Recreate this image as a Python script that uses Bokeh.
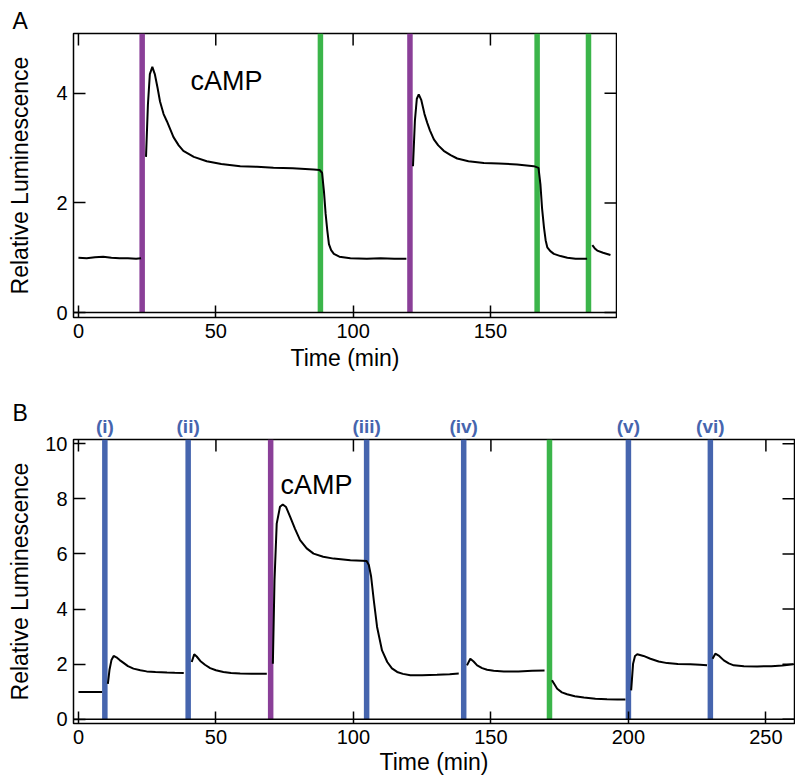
from bokeh.plotting import figure
from bokeh.models import Range1d, LinearAxis, Span, Label, FixedTicker
from bokeh.layouts import column
from bokeh.embed import file_html
from bokeh.resources import INLINE

nan = float("nan")

# ---------------- Panel A data ----------------
a_time = [0, 3, 6, 9, 12, 15, 18, 21, 22.8, nan,
          24.6, 25.3, 26.0, 26.9, 27.8, 28.8, 29.7, 31.0, 32.2, 34.6, 36.5, 38.2,
          42, 46.7, 52, 58.9, 65, 71, 78, 85.6, 87.8,
          88.7, 89.4, 90.0, 90.6, 91.2, 92.0, 93.0, 95, 99, 105, 110, 115, 119.4, nan,
          121.8, 122.5, 123.2, 123.9, 124.8, 126, 127, 128, 129.4, 131, 133, 135.5,
          137.9, 142, 147.6, 153, 159.7, 165.8, 167.5,
          168.2, 168.8, 169.5, 170.1, 170.7, 171.8, 173.1, 175.5, 178, 181, 184, 185.2, nan,
          187.1, 188.0, 188.9, 191, 193.7]
a_lum = [1.00, 0.99, 1.01, 1.02, 1.00, 0.99, 0.99, 0.98, 0.99, nan,
         2.84, 3.80, 4.35, 4.48, 4.35, 4.10, 3.85, 3.62, 3.49, 3.20, 3.05, 2.95,
         2.84, 2.76, 2.71, 2.67, 2.66, 2.64, 2.63, 2.61, 2.60,
         2.55, 2.20, 1.80, 1.50, 1.25, 1.14, 1.07, 1.02, 0.99, 0.98, 0.99, 0.98, 0.98, nan,
         2.67, 3.50, 3.90, 3.98, 3.88, 3.62, 3.46, 3.32, 3.16, 3.05, 2.95, 2.87,
         2.81, 2.76, 2.73, 2.72, 2.70, 2.67, 2.64,
         2.34, 1.90, 1.55, 1.32, 1.19, 1.12, 1.07, 1.03, 1.00, 0.98, 0.98, 0.98, nan,
         1.23, 1.17, 1.13, 1.09, 1.05]
a_purple = [23.2, 120.7]
a_green = [88.1, 167.0, 185.7]
a_xticks = [0, 50, 100, 150]
a_yticks = [0, 2, 4]

# ---------------- Panel B data ----------------
b_time = [0, 4, 8.6, nan,
          10.7, 11.3, 12.0, 12.8, 13.8, 15, 16.4, 18, 20, 22.5, 24.8, 28, 32.2, 35, 38.3, nan,
          41.2, 42.1, 43.0, 44.3, 46, 47.9, 50, 52.7, 55.5, 58.8, 63, 68.5, nan,
          70.7, 71.3, 72.1, 73.3, 74.3, 75.5, 77, 78.8, 80.6, 83, 85.5, 89, 92.8, 98.9, 103.2,
          104.8, 105.6, 106.4, 107.4, 108.6, 110.4, 112.3, 114, 115.9, 118, 120.7, 125, 130.4, 135, 138.3, nan,
          141.3, 142.5, 143.7, 145, 146.8, 148.6, 151, 154.7, 160, 165, 169.5, nan,
          172.2, 174.1, 175.8, 177.7, 180.5, 183.8, 188, 192.2, 196, 198.9, nan,
          201.0, 201.7, 202.4, 203.2, 205.5, 208, 211, 214.1, 218, 222.5, 226, 228.6, nan,
          230.6, 231.6, 233, 234.7, 236.5, 238.3, 242, 246.8, 252, 256, 260]
b_lum = [0.99, 0.99, 0.99, nan,
         1.29, 1.80, 2.15, 2.30, 2.25, 2.15, 2.05, 1.93, 1.84, 1.78, 1.74, 1.72, 1.70, 1.69, 1.68, nan,
         2.08, 2.36, 2.28, 2.12, 1.98, 1.86, 1.78, 1.72, 1.68, 1.66, 1.65, 1.65, nan,
         2.02, 5.05, 7.10, 7.71, 7.79, 7.70, 7.34, 6.90, 6.50, 6.20, 6.01, 5.90, 5.83, 5.77, 5.75,
         5.74, 5.60, 5.20, 4.32, 3.35, 2.50, 2.08, 1.85, 1.72, 1.65, 1.60, 1.60, 1.62, 1.64, 1.66, nan,
         1.96, 2.20, 2.10, 1.96, 1.86, 1.80, 1.76, 1.74, 1.74, 1.76, 1.77, nan,
         1.42, 1.11, 0.98, 0.91, 0.84, 0.79, 0.75, 0.73, 0.72, 0.72, nan,
         1.05, 2.02, 2.30, 2.36, 2.30, 2.20, 2.10, 2.04, 2.01, 2.00, 1.98, 1.96, nan,
         2.20, 2.38, 2.30, 2.14, 2.03, 1.96, 1.93, 1.92, 1.93, 1.95, 2.00]
b_blue = [9.6, 39.9, 104.8, 140.1, 200.0, 229.8]
b_blue_labels = ["(i)", "(ii)", "(iii)", "(iv)", "(v)", "(vi)"]
b_purple = [69.9]
b_green = [171.3]
b_xticks = [0, 50, 100, 150, 200, 250]
b_yticks = [0, 2, 4, 6, 8, 10]

PURPLE = "#8a3f98"
GREEN = "#3bb54a"
BLUE = "#4665ae"
FONT = "Liberation Sans"
TICK_PX = 12


def make_fig(xr, yr, fw, fh, mb_top, mb_bottom, xticks, yticks, ylab_standoff, xlab_standoff,
             panel, title_standoff):
    p = figure(frame_width=fw, frame_height=fh,
               x_range=Range1d(*xr), y_range=Range1d(*yr),
               output_backend="svg", toolbar_location=None,
               min_border_left=73, min_border_right=1,
               min_border_top=mb_top, min_border_bottom=mb_bottom)
    p.grid.visible = False
    p.outline_line_color = "black"
    p.outline_line_width = 1.5
    p.outline_line_alpha = 1.0
    p.background_fill_color = "white"
    p.border_fill_color = "white"

    p.title.text = panel
    p.title.align = "left"
    p.title.offset = -61
    p.title.standoff = title_standoff
    p.title.text_font = FONT
    p.title.text_font_size = "23px"
    p.title.text_font_style = "normal"
    p.title.text_color = "black"

    for ax, ticks in ((p.xaxis[0], xticks), (p.yaxis[0], yticks)):
        ax.ticker = FixedTicker(ticks=ticks)
        ax.axis_line_color = None
        ax.major_tick_in = TICK_PX
        ax.major_tick_out = 0
        ax.major_tick_line_width = 1.5
        ax.major_tick_line_color = "black"
        ax.minor_tick_line_color = None
        ax.major_label_text_font = FONT
        ax.major_label_text_font_size = "20px"
        ax.major_label_text_color = "black"
        ax.major_label_standoff = 6
        ax.axis_label_text_font = FONT
        ax.axis_label_text_font_size = "23px"
        ax.axis_label_text_font_style = "normal"
        ax.axis_label_text_color = "black"
    p.xaxis[0].axis_label = "Time (min)"
    p.xaxis[0].axis_label_standoff = xlab_standoff
    p.yaxis[0].axis_label = "Relative Luminescence"
    p.yaxis[0].axis_label_standoff = ylab_standoff

    # mirrored ticks on the top and right edges of the frame
    dx = TICK_PX * (xr[1] - xr[0]) / fw
    dy = TICK_PX * (yr[1] - yr[0]) / fh
    p.segment(x0=xticks, y0=[yr[1]] * len(xticks), x1=xticks, y1=[yr[1] - dy] * len(xticks),
              line_color="black", line_width=1.5)
    p.segment(x0=[xr[1]] * len(yticks), y0=yticks, x1=[xr[1] - dx] * len(yticks), y1=yticks,
              line_color="black", line_width=1.5)

    p.add_layout(Span(location=0, dimension="width", line_color="black", line_width=1.5))
    return p


def stim(p, xs, color, yr):
    p.segment(x0=xs, y0=[0] * len(xs), x1=xs, y1=[yr[1]] * len(xs),
              line_color=color, line_width=5.5)


# ---------------- Panel A ----------------
a_xr = (-1.8, 195.9)
a_yr = (-0.09, 5.09)
pA = make_fig(a_xr, a_yr, 543, 284, 33, 68, a_xticks, a_yticks, 20, 4, "A", 0)
stim(pA, a_purple, PURPLE, a_yr)
stim(pA, a_green, GREEN, a_yr)
pA.line(a_time, a_lum, line_color="black", line_width=2)
pA.add_layout(Label(x=40.8, y=4.22, text="cAMP", text_font=FONT, text_font_size="27px",
                    text_color="black", text_baseline="alphabetic", text_align="left"))

# ---------------- Panel B ----------------
b_xr = (-1.8, 260.4)
b_yr = (-0.15, 10.15)
pB = make_fig(b_xr, b_yr, 721, 284, 54, 59, b_xticks, b_yticks, 9, 2, "B", -27)
stim(pB, b_blue, BLUE, b_yr)
stim(pB, b_purple, PURPLE, b_yr)
stim(pB, b_green, GREEN, b_yr)
pB.line(b_time, b_lum, line_color="black", line_width=2)
pB.add_layout(Label(x=73.5, y=8.49, text="cAMP", text_font=FONT, text_font_size="27px",
                    text_color="black", text_baseline="alphabetic", text_align="left"))

# stimulus labels (i)...(vi) as a label-only axis above panel B
stim_axis = LinearAxis(ticker=FixedTicker(ticks=b_blue),
                       major_label_overrides={v: s for v, s in zip(b_blue, b_blue_labels)})
stim_axis.axis_line_color = None
stim_axis.major_tick_in = 0
stim_axis.major_tick_out = 0
stim_axis.minor_tick_line_color = None
stim_axis.major_label_standoff = 3
stim_axis.major_label_text_font = FONT
stim_axis.major_label_text_font_size = "19px"
stim_axis.major_label_text_font_style = "bold"
stim_axis.major_label_text_color = BLUE
pB.add_layout(stim_axis, "above")

layout = column(pA, pB)
open("out.html", "w").write(file_html(layout, INLINE))
